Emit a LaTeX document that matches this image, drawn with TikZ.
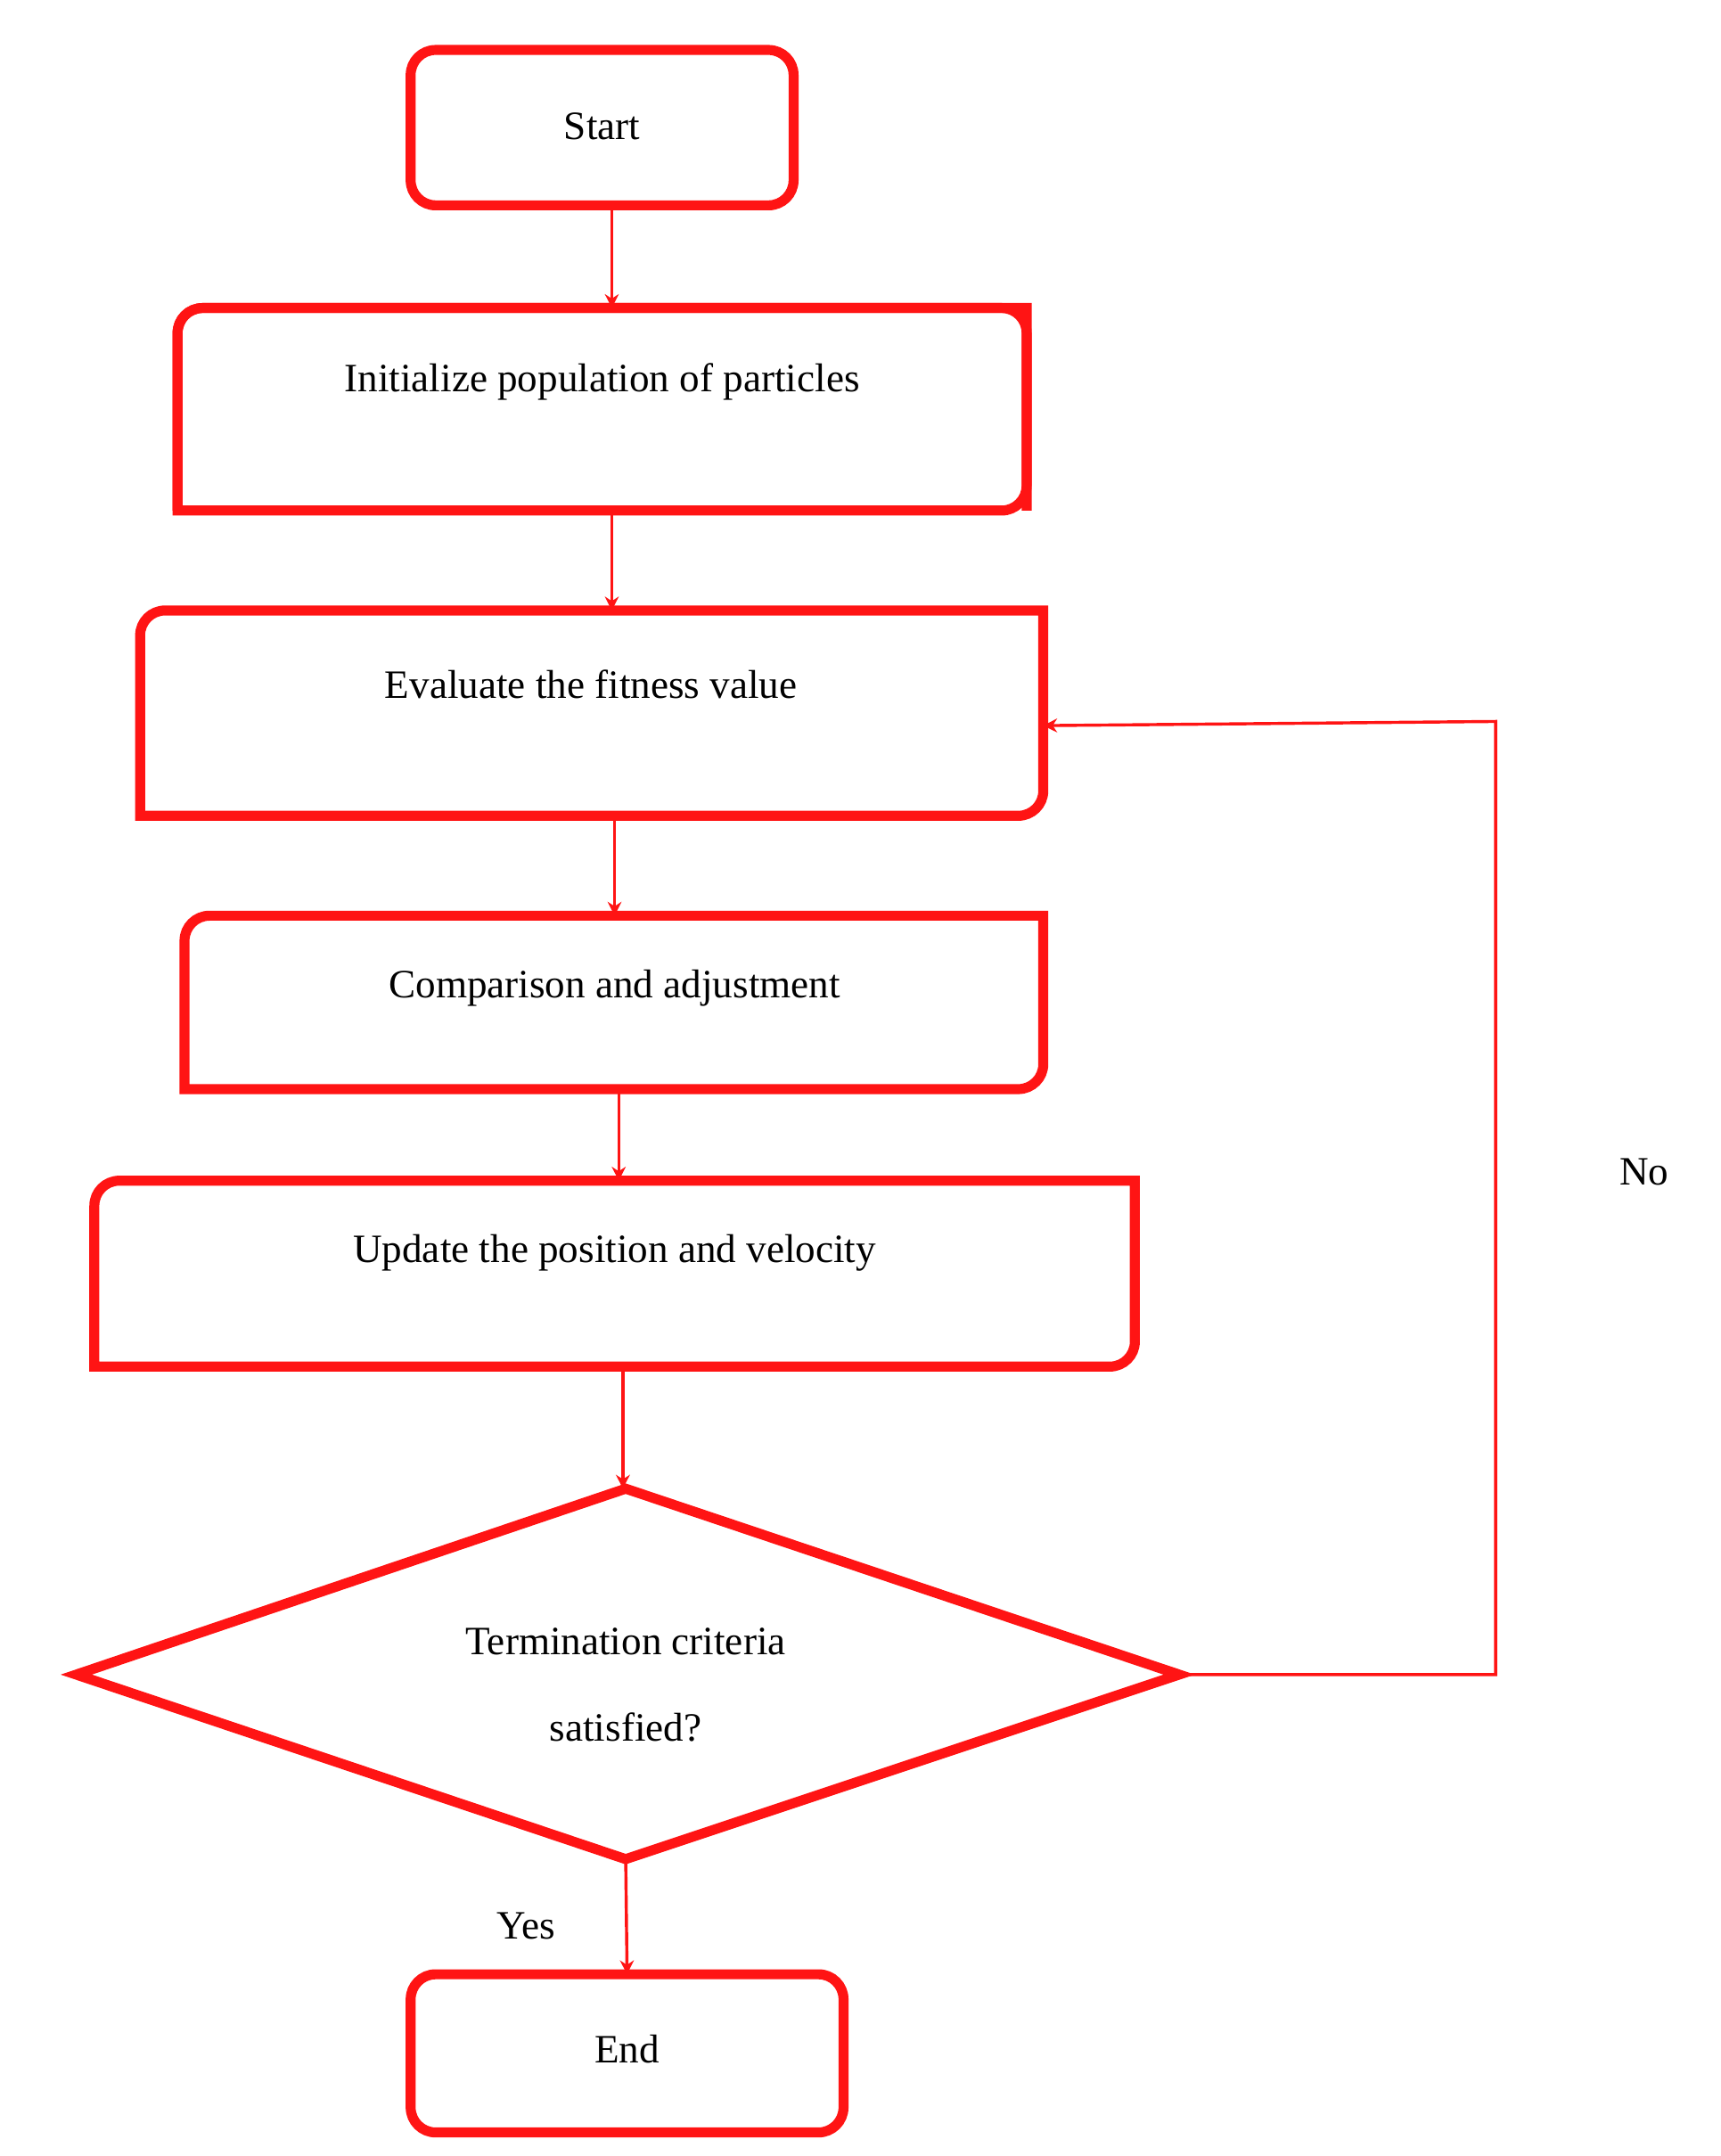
\documentclass[tikz,border=0pt]{standalone}
\usepackage{fontspec}
\setmainfont{Liberation Serif}
\usetikzlibrary{arrows.meta,shapes.geometric}
\definecolor{fr}{RGB}{255,20,20}
\begin{document}
\begin{tikzpicture}[x=0.5pt,y=-0.5pt,
  box/.style={draw=none,inner sep=0,outer sep=0},
  outline/.style={draw=fr,line width=3.6pt},
  conn/.style={draw=fr,line width=1.1pt,-{Stealth[length=5pt,width=5pt]}},
  lab/.style={font=\fontsize{14.5}{17}\selectfont}]
\useasboundingbox (0,0) rectangle (1240,1554);
% nodes
\node[box,minimum width=138pt,minimum height=56pt] (start) at (434,92) {};
\node[box,minimum width=306pt,minimum height=73pt] (init) at (434,295) {};
\node[box,minimum width=325.5pt,minimum height=74pt] (eval) at (426.5,514) {};
\node[box,minimum width=309.5pt,minimum height=62.5pt] (comp) at (442.5,722.5) {};
\node[box,minimum width=375pt,minimum height=67pt] (upd) at (443,918) {};
\node[box,minimum width=156pt,minimum height=57pt] (end) at (452,1480) {};
\coordinate (dT) at (451,1073);
\coordinate (dB) at (451,1340);
\coordinate (dL) at (55,1207);
\coordinate (dR) at (850,1207);
\coordinate (c1) at (1078,1207);
\coordinate (c2) at (1078,520);
\coordinate (c3) at (752,523);
% outlines
\draw[outline,rounded corners=9pt] (296,36) rectangle (572,148);
\draw[outline] (128,368) -- (128,238) [rounded corners=9pt] -- (128,222) -- (740,222) [sharp corners] -- (740,368) [rounded corners=9pt] -- (740,368) ;
\draw[outline] (128,240) [rounded corners=9pt] -- (128,222) -- (180,222) [sharp corners] -- (740,222) -- (740,330) [rounded corners=9pt] -- (740,368) -- (690,368) [sharp corners] -- (128,368) -- cycle;
\draw[outline] (101,470) [rounded corners=9pt] -- (101,440) -- (160,440) [sharp corners] -- (752,440) -- (752,550) [rounded corners=9pt] -- (752,588) -- (700,588) [sharp corners] -- (101,588) -- cycle;
\draw[outline] (133,700) [rounded corners=9pt] -- (133,660) -- (190,660) [sharp corners] -- (752,660) -- (752,750) [rounded corners=9pt] -- (752,785) -- (700,785) [sharp corners] -- (133,785) -- cycle;
\draw[outline] (68,890) [rounded corners=9pt] -- (68,851) -- (120,851) [sharp corners] -- (818,851) -- (818,950) [rounded corners=9pt] -- (818,985) -- (760,985) [sharp corners] -- (68,985) -- cycle;
\draw[outline,rounded corners=9pt] (296,1423) rectangle (608,1537);
\draw[outline,line join=miter] (dT) -- (dR) -- (dB) -- (dL) -- cycle;
% labels
\node[lab] at (434,91) {Start};
\node[lab] at (434,275) {Initialize population of particles};
\node[lab] at (426,493) {Evaluate the fitness value};
\node[lab] at (443,712) {Comparison and adjustment};
\node[lab] at (443,903) {Update the position and velocity};
\node[lab] at (451,1183) {Termination criteria};
\node[lab] at (451,1245) {satisfied?};
\node[lab] at (452,1477) {End};
\node[lab] at (1185,845) {No};
\node[lab] at (379,1388) {Yes};
% connectors
\draw[conn] (start.south -| 441,0) -- (init.north -| 441,0);
\draw[conn] (init.south -| 441,0) -- (eval.north -| 441,0);
\draw[conn] (eval.south -| 443,0) -- (comp.north -| 443,0);
\draw[conn] (comp.south -| 446,0) -- (upd.north -| 446,0);
\draw[conn] (upd.south -| 449,0) -- (dT -| 449,0);
\draw[conn] (dB) -- (end.north);
\draw[conn] (dR) -- (c1) -- (c2) -- (c3);
\end{tikzpicture}
\end{document}
